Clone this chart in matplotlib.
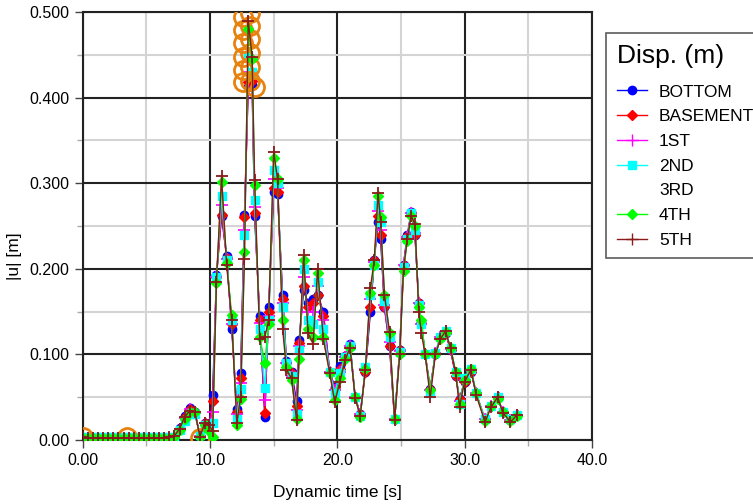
import matplotlib
matplotlib.use("Agg")
import matplotlib.pyplot as plt
from matplotlib.lines import Line2D

plt.rcParams['font.family'] = ['Liberation Sans', 'DejaVu Sans']

# time axis shared by the series [s]
time = [0.0, 0.4, 0.8, 1.2, 1.6, 2.0, 2.4, 2.8, 3.2, 3.6, 4.0, 4.4, 4.8, 5.2, 5.6, 6.0, 6.4, 6.8,
        7.2, 7.6, 8.0, 8.4, 8.8, 9.2, 9.6, 9.9,
        10.2, 10.5, 10.9, 11.3, 11.7, 12.1, 12.4, 12.7, 13.0, 13.3, 13.5, 13.9, 14.3, 14.6, 15.0, 15.3, 15.7, 16.0, 16.4, 16.8,
        17.0, 17.35, 17.7, 18.1, 18.45, 18.9, 19.4, 19.8, 20.2, 20.6, 21.0, 21.4, 21.8, 22.2, 22.6, 22.9, 23.2, 23.4, 23.7, 24.1,
        24.5, 24.9, 25.2, 25.5, 25.8, 26.1, 26.4, 26.6, 26.9, 27.3, 27.7, 28.1, 28.5, 28.9, 29.3, 29.6, 30.0, 30.5, 30.9,
        31.6, 32.1, 32.6, 33.0, 33.6, 34.1]

bottom = [0.002, 0.002, 0.002, 0.002, 0.002, 0.002, 0.002, 0.002, 0.002, 0.002, 0.002, 0.002, 0.002, 0.002, 0.002, 0.002, 0.002, 0.002,
          0.004, 0.014, 0.028, 0.037, 0.033, 0.005, 0.020, 0.017,
          0.052, 0.193, 0.262, 0.215, 0.130, 0.036, 0.078, 0.263, 0.413, 0.415, 0.262, 0.145, 0.027, 0.155, 0.290, 0.287, 0.170, 0.092, 0.080, 0.045,
          0.117, 0.175, 0.160, 0.165, 0.170, 0.150, 0.080, 0.062, 0.087, 0.098, 0.112, 0.050, 0.030, 0.080, 0.150, 0.210, 0.255, 0.235, 0.155, 0.110,
          0.024, 0.105, 0.205, 0.240, 0.266, 0.240, 0.160, 0.137, 0.100, 0.060, 0.100, 0.120, 0.125, 0.105, 0.075, 0.048, 0.068, 0.080, 0.055,
          0.024, 0.040, 0.050, 0.033, 0.023, 0.029]

basement = [0.002, 0.002, 0.002, 0.002, 0.002, 0.002, 0.002, 0.002, 0.002, 0.002, 0.002, 0.002, 0.002, 0.002, 0.002, 0.002, 0.002, 0.002,
            0.004, 0.013, 0.027, 0.036, 0.033, 0.005, 0.020, 0.016,
            0.045, 0.190, 0.263, 0.213, 0.135, 0.033, 0.073, 0.260, 0.418, 0.420, 0.265, 0.140, 0.031, 0.150, 0.295, 0.290, 0.165, 0.090, 0.078, 0.040,
            0.113, 0.180, 0.155, 0.160, 0.170, 0.145, 0.080, 0.060, 0.083, 0.098, 0.110, 0.050, 0.030, 0.080, 0.155, 0.210, 0.262, 0.240, 0.155, 0.110,
            0.024, 0.105, 0.205, 0.238, 0.265, 0.240, 0.160, 0.137, 0.100, 0.060, 0.100, 0.120, 0.125, 0.105, 0.075, 0.048, 0.068, 0.080, 0.055,
            0.024, 0.040, 0.050, 0.033, 0.023, 0.029]

first = [0.002, 0.002, 0.002, 0.002, 0.002, 0.002, 0.002, 0.002, 0.002, 0.002, 0.002, 0.002, 0.002, 0.002, 0.002, 0.002, 0.002, 0.002,
         0.004, 0.013, 0.026, 0.036, 0.033, 0.005, 0.020, 0.016,
         0.033, 0.190, 0.275, 0.212, 0.135, 0.030, 0.067, 0.245, 0.430, 0.425, 0.272, 0.137, 0.047, 0.145, 0.305, 0.295, 0.160, 0.090, 0.075, 0.035,
         0.110, 0.190, 0.150, 0.150, 0.180, 0.140, 0.080, 0.058, 0.080, 0.097, 0.110, 0.050, 0.030, 0.083, 0.165, 0.208, 0.268, 0.245, 0.158, 0.115,
         0.024, 0.104, 0.204, 0.237, 0.265, 0.242, 0.160, 0.135, 0.100, 0.058, 0.102, 0.120, 0.127, 0.106, 0.078, 0.045, 0.070, 0.082, 0.055,
         0.024, 0.040, 0.050, 0.033, 0.023, 0.029]

second = [0.003, 0.003, 0.003, 0.003, 0.003, 0.003, 0.003, 0.003, 0.003, 0.003, 0.003, 0.003, 0.003, 0.003, 0.003, 0.003, 0.003, 0.003,
          0.004, 0.012, 0.022, 0.030, 0.030, 0.006, 0.018, 0.015,
          0.020, 0.190, 0.285, 0.210, 0.140, 0.025, 0.060, 0.240, 0.450, 0.430, 0.280, 0.130, 0.061, 0.140, 0.315, 0.300, 0.155, 0.090, 0.075, 0.030,
          0.105, 0.200, 0.140, 0.135, 0.185, 0.130, 0.080, 0.055, 0.078, 0.097, 0.110, 0.050, 0.028, 0.085, 0.170, 0.205, 0.275, 0.255, 0.162, 0.120,
          0.025, 0.103, 0.202, 0.235, 0.265, 0.245, 0.158, 0.135, 0.100, 0.055, 0.102, 0.120, 0.127, 0.108, 0.080, 0.042, 0.072, 0.083, 0.055,
          0.024, 0.040, 0.050, 0.033, 0.024, 0.029]

fourth = [0.002, 0.002, 0.002, 0.002, 0.002, 0.002, 0.002, 0.002, 0.002, 0.002, 0.002, 0.002, 0.002, 0.002, 0.002, 0.002, 0.002, 0.002,
          0.004, 0.012, 0.025, 0.033, 0.033, 0.004, 0.018, 0.010,
          0.003, 0.183, 0.302, 0.207, 0.146, 0.018, 0.048, 0.220, 0.480, 0.445, 0.298, 0.120, 0.090, 0.135, 0.330, 0.305, 0.140, 0.085, 0.070, 0.025,
          0.095, 0.210, 0.130, 0.120, 0.195, 0.120, 0.078, 0.047, 0.072, 0.095, 0.107, 0.050, 0.027, 0.083, 0.172, 0.205, 0.285, 0.260, 0.170, 0.125,
          0.025, 0.100, 0.198, 0.233, 0.262, 0.250, 0.155, 0.140, 0.100, 0.058, 0.100, 0.118, 0.126, 0.108, 0.080, 0.042, 0.070, 0.083, 0.055,
          0.022, 0.040, 0.048, 0.033, 0.022, 0.028]

fifth = [0.003, 0.002, 0.002, 0.002, 0.002, 0.002, 0.002, 0.002, 0.002, 0.002, 0.002, 0.002, 0.002, 0.002, 0.002, 0.002, 0.002, 0.003,
         0.005, 0.013, 0.027, 0.034, 0.033, 0.004, 0.020, 0.018,
         0.010, 0.185, 0.308, 0.205, 0.140, 0.020, 0.050, 0.212, 0.490, 0.448, 0.304, 0.118, 0.120, 0.140, 0.337, 0.305, 0.130, 0.082, 0.072, 0.023,
         0.100, 0.216, 0.125, 0.112, 0.200, 0.118, 0.078, 0.044, 0.068, 0.093, 0.108, 0.049, 0.028, 0.082, 0.178, 0.210, 0.289, 0.255, 0.170, 0.126,
         0.023, 0.100, 0.200, 0.235, 0.262, 0.252, 0.150, 0.125, 0.100, 0.050, 0.100, 0.118, 0.127, 0.107, 0.078, 0.039, 0.068, 0.082, 0.053,
         0.021, 0.039, 0.050, 0.032, 0.021, 0.029]

# 3RD only shows as scattered open circles
third_time = [0.0, 3.45, 9.2, 12.55, 12.55, 12.55, 12.55, 12.55, 12.55, 13.1, 13.1, 13.1, 13.1, 13.1, 13.1, 13.5]
third_val = [0.004, 0.004, 0.002, 0.418, 0.432, 0.448, 0.464, 0.479, 0.494, 0.420, 0.436, 0.452, 0.468, 0.484, 0.499, 0.412]

xticks = [0, 10, 20, 30, 40]
xlabels = ['0.00', '10.0', '20.0', '30.0', '40.0']
yticks = [0, 0.1, 0.2, 0.3, 0.4, 0.5]
ylabels = ['0.00', '0.100', '0.200', '0.300', '0.400', '0.500']

fig = plt.figure(figsize=(7.53, 5.04), dpi=100)
ax = fig.add_axes([0.110, 0.127, 0.676, 0.849])

ax.plot(time, bottom, color='#0000ff', lw=1, marker='o', ms=6, zorder=3)
ax.plot(time, basement, color='#ff0000', lw=1, marker='D', ms=5, zorder=3)
ax.plot(time, first, color='#ff00ff', lw=1, marker='+', ms=8, mew=1.2, zorder=3)
ax.plot(time, second, color='#00ffff', lw=1, marker='s', ms=6, zorder=3)
ax.plot(third_time, third_val, ls='none', marker='o', ms=13, mfc='none', mec='#e8820f', mew=2, zorder=3)
ax.plot(time, fourth, color='#00ff00', lw=1, marker='D', ms=5, zorder=3)
ax.plot(time, fifth, color='#8b1a1a', lw=1, marker='+', ms=9, mew=1.3, zorder=4)

ax.set_xlim(0, 40)
ax.set_ylim(0, 0.5)
ax.set_xticks(xticks)
ax.set_xticklabels(xlabels)
ax.set_xticks([5, 15, 25, 35], minor=True)
ax.set_yticks(yticks)
ax.set_yticklabels(ylabels)
ax.set_yticks([0.05, 0.15, 0.25, 0.35, 0.45], minor=True)

ax.grid(which='major', color='#222222', lw=1.5, zorder=0)
ax.grid(which='minor', color='#d4d4d4', lw=1.5, zorder=0)
ax.set_axisbelow(True)
ax.tick_params(which='major', length=6, width=1, labelsize=11.5, color='#444444')
ax.tick_params(which='minor', length=4, width=1, color='#aaaaaa')
for s in ax.spines.values():
    s.set_color('#222222')
    s.set_linewidth(1.5)

ax.set_xlabel('Dynamic time [s]', fontsize=12.5, labelpad=12)
ax.set_ylabel('|u| [m]', fontsize=12.5)
ax.yaxis.set_label_coords(-0.12, 0.43)

handles = [
    Line2D([], [], color='#0000ff', lw=1, marker='o', ms=6),
    Line2D([], [], color='#ff0000', lw=1, marker='D', ms=5),
    Line2D([], [], color='#ff00ff', lw=1, marker='+', ms=8),
    Line2D([], [], color='#00ffff', lw=1, marker='s', ms=6),
    Line2D([], [], ls='none', marker=None),
    Line2D([], [], color='#00ff00', lw=1, marker='D', ms=5),
    Line2D([], [], color='#8b1a1a', lw=1, marker='+', ms=8),
]
labels = ['BOTTOM', 'BASEMENT', '1ST', '2ND', '3RD', '4TH', '5TH']
leg = fig.legend(handles, labels, loc='upper left', bbox_to_anchor=(0.805, 0.934),
                 title='Disp. (m)', fontsize=12.5, title_fontsize=19, frameon=True,
                 fancybox=False, edgecolor='#333333', handlelength=1.75,
                 labelspacing=0.55, borderpad=0.6, handletextpad=0.7, borderaxespad=0)
leg.get_frame().set_linewidth(1.2)
leg._legend_box.align = 'left'
leg._legend_box.sep = 12

fig.savefig('out.png', dpi=100)
